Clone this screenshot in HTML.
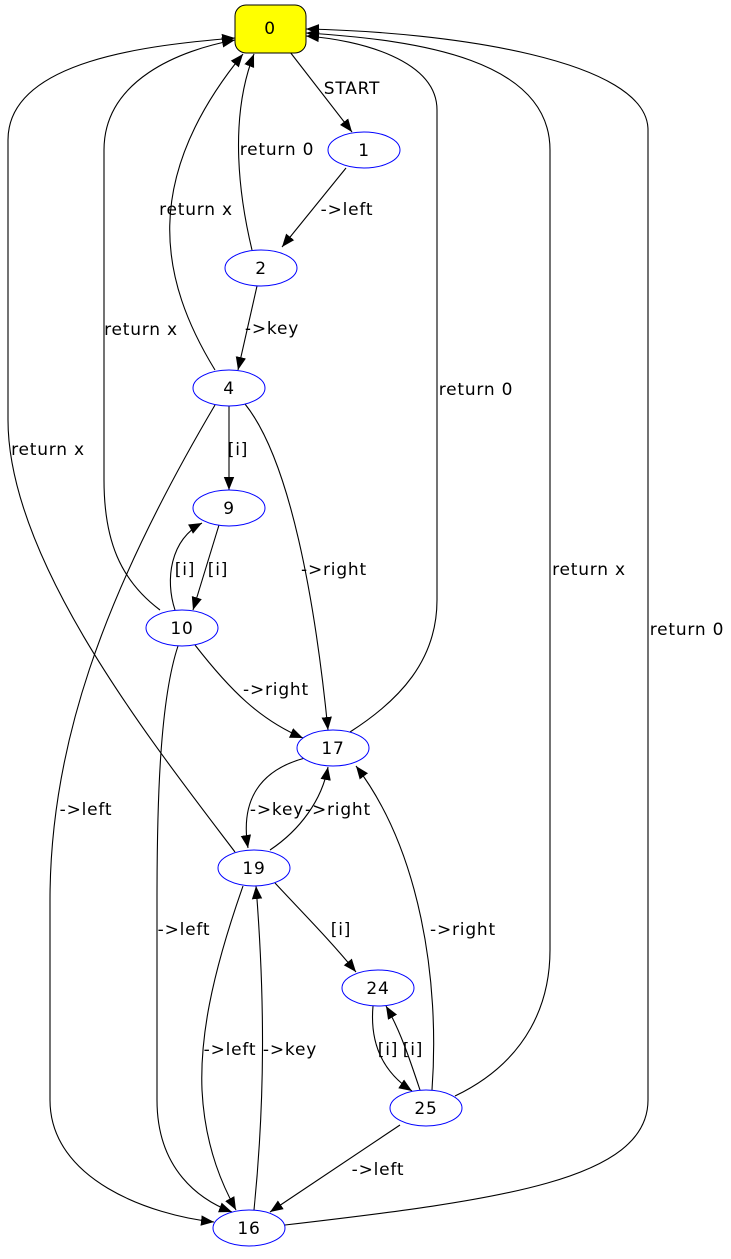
<!DOCTYPE html>
<html><head><meta charset="utf-8"><style>
html,body{margin:0;padding:0;background:#fff;}
svg{display:block;}
text{font-family:"DejaVu Sans","Liberation Sans",sans-serif;font-size:17px;letter-spacing:0.8px;fill:#000;}
.e{fill:none;stroke:#000;stroke-width:1.1;}
.n{fill:#fff;stroke:#0000ff;stroke-width:1;}
</style></head><body>
<svg width="731" height="1259" viewBox="0 0 731 1259" xmlns="http://www.w3.org/2000/svg">
<defs>
<marker id="a" viewBox="0 0 10 10" refX="10" refY="5" markerWidth="13" markerHeight="13" markerUnits="userSpaceOnUse" orient="auto">
<path d="M0,1 L10,5 L0,9 z" fill="#000"/>
</marker>
</defs>
<g marker-end="url(#a)">
<path class="e" d="M290,52 L352,132"/>
<path class="e" d="M346,168 L282,247"/>
<path class="e" d="M252,250 C240,200 228,120 254,54"/>
<path class="e" d="M215,370 C160,280 140,180 243,54"/>
<path class="e" d="M257,286 L238,370"/>
<path class="e" d="M229,406 L229,490"/>
<path class="e" d="M245,404 C290,460 315,600 328,730"/>
<path class="e" d="M215,405 C100,600 50,750 50,900 L50,1100 C50,1180 150,1215 214,1222"/>
<path class="e" d="M219,525 L193,610"/>
<path class="e" d="M175,610 C165,580 170,540 202,523"/>
<path class="e" d="M160,610 C120,580 104,540 104,480 L104,150 C104,80 180,50 235,40"/>
<path class="e" d="M195,645 C230,690 260,720 303,738"/>
<path class="e" d="M178,646 C160,700 157,800 157,900 L157,1100 C157,1170 200,1200 232,1212"/>
<path class="e" d="M350,732 C400,700 437,660 437,600 L437,110 C437,60 360,40 306,36"/>
<path class="e" d="M305,758 C260,770 240,800 248,848"/>
<path class="e" d="M270,850 C300,830 322,800 328,767"/>
<path class="e" d="M235,852 C150,740 8,560 8,420 L8,140 C8,60 150,45 235,38"/>
<path class="e" d="M275,883 C300,910 330,940 356,972"/>
<path class="e" d="M243,886 C210,980 200,1040 202,1090 C205,1150 225,1190 236,1210"/>
<path class="e" d="M254,1210 C265,1100 265,1000 256,886"/>
<path class="e" d="M432,1090 C440,980 420,850 356,766"/>
<path class="e" d="M455,1096 C530,1060 550,1000 550,950 L550,150 C550,60 420,40 306,33"/>
<path class="e" d="M373,1006 C370,1040 380,1070 412,1091"/>
<path class="e" d="M420,1090 C410,1060 400,1030 386,1006"/>
<path class="e" d="M400,1125 L270,1212"/>
<path class="e" d="M285,1225 C500,1200 648,1180 648,1100 L648,130 C648,60 450,32 306,29"/>
</g>
<rect x="235" y="5" width="71" height="48" rx="11" ry="11" fill="#ffff00" stroke="#000"/>
<text x="270" y="34" text-anchor="middle">0</text>
<g>
<ellipse class="n" cx="364" cy="150" rx="36" ry="18"/><text x="364" y="156" text-anchor="middle">1</text>
<ellipse class="n" cx="261" cy="268" rx="36" ry="18"/><text x="261" y="274" text-anchor="middle">2</text>
<ellipse class="n" cx="229" cy="388" rx="36" ry="18"/><text x="229" y="394" text-anchor="middle">4</text>
<ellipse class="n" cx="229" cy="508" rx="36" ry="18"/><text x="229" y="514" text-anchor="middle">9</text>
<ellipse class="n" cx="182" cy="628" rx="36" ry="18"/><text x="182" y="634" text-anchor="middle">10</text>
<ellipse class="n" cx="333" cy="748" rx="36" ry="18"/><text x="333" y="754" text-anchor="middle">17</text>
<ellipse class="n" cx="254" cy="868" rx="36" ry="18"/><text x="254" y="874" text-anchor="middle">19</text>
<ellipse class="n" cx="378" cy="988" rx="36" ry="18"/><text x="378" y="994" text-anchor="middle">24</text>
<ellipse class="n" cx="426" cy="1108" rx="36" ry="18"/><text x="426" y="1114" text-anchor="middle">25</text>
<ellipse class="n" cx="249" cy="1228" rx="36" ry="18"/><text x="249" y="1234" text-anchor="middle">16</text>
</g>
<g text-anchor="middle">
<text x="352" y="94">START</text>
<text x="347" y="215">-&gt;left</text>
<text x="277" y="155">return 0</text>
<text x="196" y="215">return x</text>
<text x="272" y="334">-&gt;key</text>
<text x="141" y="335">return x</text>
<text x="238" y="455">[i]</text>
<text x="476" y="395">return 0</text>
<text x="48" y="455">return x</text>
<text x="218" y="575">[i]</text>
<text x="185" y="575">[i]</text>
<text x="334" y="575">-&gt;right</text>
<text x="589" y="575">return x</text>
<text x="687" y="635">return 0</text>
<text x="276" y="695">-&gt;right</text>
<text x="86" y="815">-&gt;left</text>
<text x="277" y="815">-&gt;key</text>
<text x="338" y="815">-&gt;right</text>
<text x="184" y="935">-&gt;left</text>
<text x="341" y="935">[i]</text>
<text x="463" y="935">-&gt;right</text>
<text x="230" y="1055">-&gt;left</text>
<text x="290" y="1055">-&gt;key</text>
<text x="388" y="1055">[i]</text>
<text x="413" y="1055">[i]</text>
<text x="378" y="1175">-&gt;left</text>
</g>
</svg>
</body></html>
